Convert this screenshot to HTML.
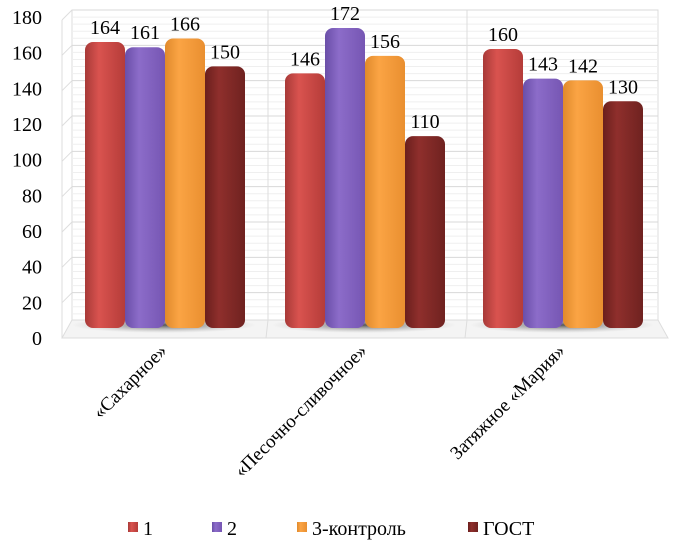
<!DOCTYPE html>
<html><head><meta charset="utf-8">
<style>
html,body{margin:0;padding:0;background:#fff;}
svg{display:block;}
svg text{font-family:"Liberation Serif","Times New Roman","Tinos","DejaVu Serif","Noto Serif CJK SC",serif !important;}
</style></head>
<body>
<svg id="chart" width="686" height="543" viewBox="0 0 686 543" xmlns="http://www.w3.org/2000/svg">
<defs>
<linearGradient id="g0" x1="0" x2="1"><stop offset="0" stop-color="#a83a38"/><stop offset="0.35" stop-color="#d9534f"/><stop offset="1" stop-color="#b53c39"/></linearGradient>
<linearGradient id="g1" x1="0" x2="1"><stop offset="0" stop-color="#6a4fa8"/><stop offset="0.35" stop-color="#8c6cc9"/><stop offset="1" stop-color="#7656b3"/></linearGradient>
<linearGradient id="g2" x1="0" x2="1"><stop offset="0" stop-color="#e08a2c"/><stop offset="0.35" stop-color="#fba444"/><stop offset="1" stop-color="#e98f30"/></linearGradient>
<linearGradient id="g3" x1="0" x2="1"><stop offset="0" stop-color="#6a1f1d"/><stop offset="0.35" stop-color="#8f2f2c"/><stop offset="1" stop-color="#6f2220"/></linearGradient>
<radialGradient id="sh"><stop offset="0" stop-color="#555"/><stop offset="1" stop-color="#aaa" stop-opacity="0"/></radialGradient>
</defs>
<g id="grid"></g>
<g id="bars"></g>
<g id="labels"></g>
<g id="legend"></g>
</svg>
<script>
const categories = ["«Сахарное»", "«Песочно-сливочное»", "Затяжное «Мария»"];
const seriesNames = ["1", "2", "3-контроль", "ГОСТ"];
const s1 = [164, 146, 160];
const s2 = [161, 172, 143];
const s3 = [166, 156, 142];
const gost = [150, 110, 130];
const yTicks = [0, 20, 40, 60, 80, 100, 120, 140, 160, 180];

const NS = "http://www.w3.org/2000/svg";
const series = [s1, s2, s3, gost];
const base = 328, k = 1.744;
function y(v){ return base - v * k; }
function tickY(v){ return 17 + (180 - v) * (321/180); }
const groupCenters = [164, 364, 562];
function mk(tag, attrs, parent){ const e=document.createElementNS(NS,tag); for(const a in attrs) e.setAttribute(a, attrs[a]); parent.appendChild(e); return e; }
const grid = document.getElementById('grid'), bars = document.getElementById('bars'), labels = document.getElementById('labels'), legend = document.getElementById('legend');

const wall = mk('rect',{x:72,y:10,width:586,height:318,fill:'#fff',stroke:'#ddd'},grid);


for(let v=0; v<=180; v+=4){
  const yy = 10 + (180 - v) * (318/180);
  mk('line',{x1:72,x2:658,y1:yy,y2:yy,stroke: v%20===0?'#d8d8d8':'#efefef','stroke-width':1},grid);
}
yTicks.forEach(v=>{
  const yy = 10 + (180 - v) * (318/180);
  mk('line',{x1:62,x2:72,y1:yy+10,y2:yy,stroke:'#ddd'},grid);
});
mk('line',{x1:62,y1:20,x2:62,y2:338,stroke:'#ddd'},grid);
const floor = mk('polygon',{points:'72,320 658,320 668,338 62,338',fill:'#f4f4f4',stroke:'#ddd'},grid);


[266,465].forEach(x=>{ mk('line',{x1:x+2,y1:10,x2:x+2,y2:320,stroke:'#ddd'},grid); mk('line',{x1:x+2,y1:320,x2:x,y2:338,stroke:'#ddd'},grid); });

yTicks.forEach(v=>{
  const t = mk('text',{x:42,y:tickY(v)+7,'text-anchor':'end','font-size':20,fill:'#000'},labels);
  t.textContent = v;
  
  
});

const offs = [-60,-20,20,60];
categories.forEach((c,gi)=>{
  mk('ellipse',{cx:groupCenters[gi],cy:325,rx:92,ry:8,fill:'url(#sh)'},bars);
  series.forEach((s,si)=>{
    const x = groupCenters[gi] + offs[si] - 20;
    const top = y(s[gi]);
    const r = mk('rect',{x:x+1,y:top,width:40,height:base-top,rx:8,ry:8,fill:'url(#g'+si+')'},bars);
    
    
    const lt = mk('text',{x:x+21,y:top-8,'text-anchor':'middle','font-size':20,fill:'#000'},labels);
    lt.textContent = s[gi];
    
    
  });
  const ct = mk('text',{x:0,y:0,'text-anchor':'end','font-size':19,fill:'#000',transform:'translate('+(groupCenters[gi]+4)+',352) rotate(-45)'},labels);
  ct.textContent = c;
  
  
});

const legX = [128, 212, 297, 468];
seriesNames.forEach((n,i)=>{
  const sw = mk('rect',{x:legX[i],y:522,width:10,height:10,fill:'url(#g'+i+')'},legend);
  
  
  const t = mk('text',{x:legX[i]+15,y:535,'font-size':20,fill:'#000'},legend);
  t.textContent = n;
  
  
});
</script>
</body></html>
